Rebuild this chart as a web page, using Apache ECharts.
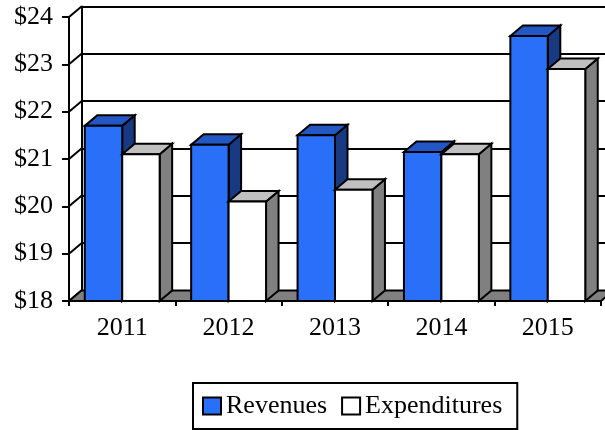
<!DOCTYPE html>
<html><head><meta charset="utf-8">
<script src="https://cdn.jsdelivr.net/npm/echarts@6/dist/echarts.min.js"></script>
<style>html,body{margin:0;padding:0;background:#fff}#c{width:605px;height:430px}</style>
</head><body><div id="c"></div>
<script>
const categories = ['2011', '2012', '2013', '2014', '2015'];
const revenues = [21.7, 21.3, 21.5, 21.15, 23.6];
const expenditures = [21.1, 20.1, 20.35, 21.1, 22.9];
const yTicks = [18, 19, 20, 21, 22, 23, 24];

const DX = 12.5, DY = -10.5;
const FONT = '"Liberation Serif", "Times New Roman", serif';
const YMIN = 18, YMAX = 24;

function barRender(idx, front, top, side) {
  return function (params, api) {
    const cat = api.value(0);
    const val = api.value(1);
    const base = api.coord([cat, YMIN]);
    const tp = api.coord([cat, val]);
    const cw = api.size([1, 0])[0];
    const bw = cw * 0.352;
    const x0 = base[0] - bw + idx * bw;
    const x1 = x0 + bw;
    const yb = base[1], yt = tp[1];
    const st = (f) => ({ fill: f, stroke: '#000', lineWidth: 2, lineJoin: 'miter' });
    return {
      type: 'group', children: [
        { type: 'polygon', shape: { points: [[x1, yb], [x1 + DX, yb + DY], [x1 + DX, yt + DY], [x1, yt]] }, style: st(side) },
        { type: 'polygon', shape: { points: [[x0, yt], [x0 + DX, yt + DY], [x1 + DX, yt + DY], [x1, yt]] }, style: st(top) },
        { type: 'rect', shape: { x: x0, y: yt, width: bw, height: yb - yt }, style: st(front) }
      ]
    };
  };
}

function floorRender(params, api) {
  const cw = api.size([1, 0])[0];
  const l = api.coord([0, YMIN]);
  const r = api.coord([categories.length - 1, YMIN]);
  const xl = l[0] - cw / 2, xr = r[0] + cw / 2, y = l[1];
  return {
    type: 'polygon',
    shape: { points: [[xl, y], [xr, y], [xr + DX, y + DY], [xl + DX, y + DY]] },
    style: { fill: '#808080', stroke: '#000', lineWidth: 2 }
  };
}

function wallRender(params, api) {
  const cw = api.size([1, 0])[0];
  const p = api.coord([0, api.value(0)]);
  const xl = p[0] - cw / 2;
  return {
    type: 'line',
    shape: { x1: xl, y1: p[1], x2: xl + DX, y2: p[1] + DY },
    style: { stroke: '#000', lineWidth: 2 }
  };
}

const chart = echarts.init(document.getElementById('c'), null, { renderer: 'canvas' });
chart.setOption({
  backgroundColor: '#fff',
  animation: false,
  textStyle: { fontFamily: FONT },
  grid: [
    { left: 69, top: 17, width: 532, height: 284 },
    { left: 69 + DX, top: 17 + DY, width: 532, height: 284 }
  ],
  xAxis: [
    {
      type: 'category', data: categories, gridIndex: 0,
      axisLine: { show: true, lineStyle: { color: '#000', width: 2 } },
      axisTick: { show: true, length: 5, lineStyle: { color: '#000', width: 2 } },
      axisLabel: { color: '#000', fontSize: 26, fontFamily: FONT, margin: 14 },
      splitLine: { show: false }
    },
    {
      type: 'category', data: categories, gridIndex: 1, show: false
    }
  ],
  yAxis: [
    {
      type: 'value', gridIndex: 0, min: YMIN, max: YMAX, interval: 1,
      axisLine: { show: true, lineStyle: { color: '#000', width: 2 } },
      axisTick: { show: true, length: 7, lineStyle: { color: '#000', width: 2 } },
      axisLabel: { color: '#000', fontSize: 26, fontFamily: FONT, margin: 16, formatter: v => '$' + v },
      splitLine: { show: false }
    },
    {
      type: 'value', gridIndex: 1, min: YMIN, max: YMAX, interval: 1,
      axisLine: { show: true, lineStyle: { color: '#000', width: 2 } },
      axisTick: { show: false },
      axisLabel: { show: false },
      splitLine: { show: true, lineStyle: { color: '#000', width: 2 } }
    }
  ],
  legend: {
    left: 193, top: 383,
    padding: [10, 15, 10, 9],
    borderColor: '#000', borderWidth: 2,
    itemWidth: 18, itemHeight: 17, itemGap: 14,
    textStyle: { fontSize: 26, color: '#000', fontFamily: FONT, lineHeight: 26 },
    data: [
      { name: 'Revenues', icon: 'rect', itemStyle: { color: '#2a6ff7', borderColor: '#000', borderWidth: 2 } },
      { name: 'Expenditures', icon: 'rect', itemStyle: { color: '#fff', borderColor: '#000', borderWidth: 2 } }
    ]
  },
  series: [
    {
      type: 'custom', name: 'walls', xAxisIndex: 0, yAxisIndex: 0, z: 1,
      renderItem: wallRender, data: yTicks.map(v => [v]), silent: true
    },
    {
      type: 'custom', name: 'floor', xAxisIndex: 0, yAxisIndex: 0, z: 1,
      renderItem: floorRender, data: [[0]], silent: true
    },
    {
      type: 'custom', name: 'Revenues', xAxisIndex: 0, yAxisIndex: 0, z: 3,
      itemStyle: { color: '#2a6ff7' },
      renderItem: barRender(0, '#2a6ff7', '#2357c4', '#183a82'),
      encode: { x: 0, y: 1 },
      data: revenues.map((v, i) => [i, v])
    },
    {
      type: 'custom', name: 'Expenditures', xAxisIndex: 0, yAxisIndex: 0, z: 4,
      itemStyle: { color: '#fff' },
      renderItem: barRender(1, '#ffffff', '#c0c0c0', '#808080'),
      encode: { x: 0, y: 1 },
      data: expenditures.map((v, i) => [i, v])
    }
  ]
});
</script>
</body></html>
